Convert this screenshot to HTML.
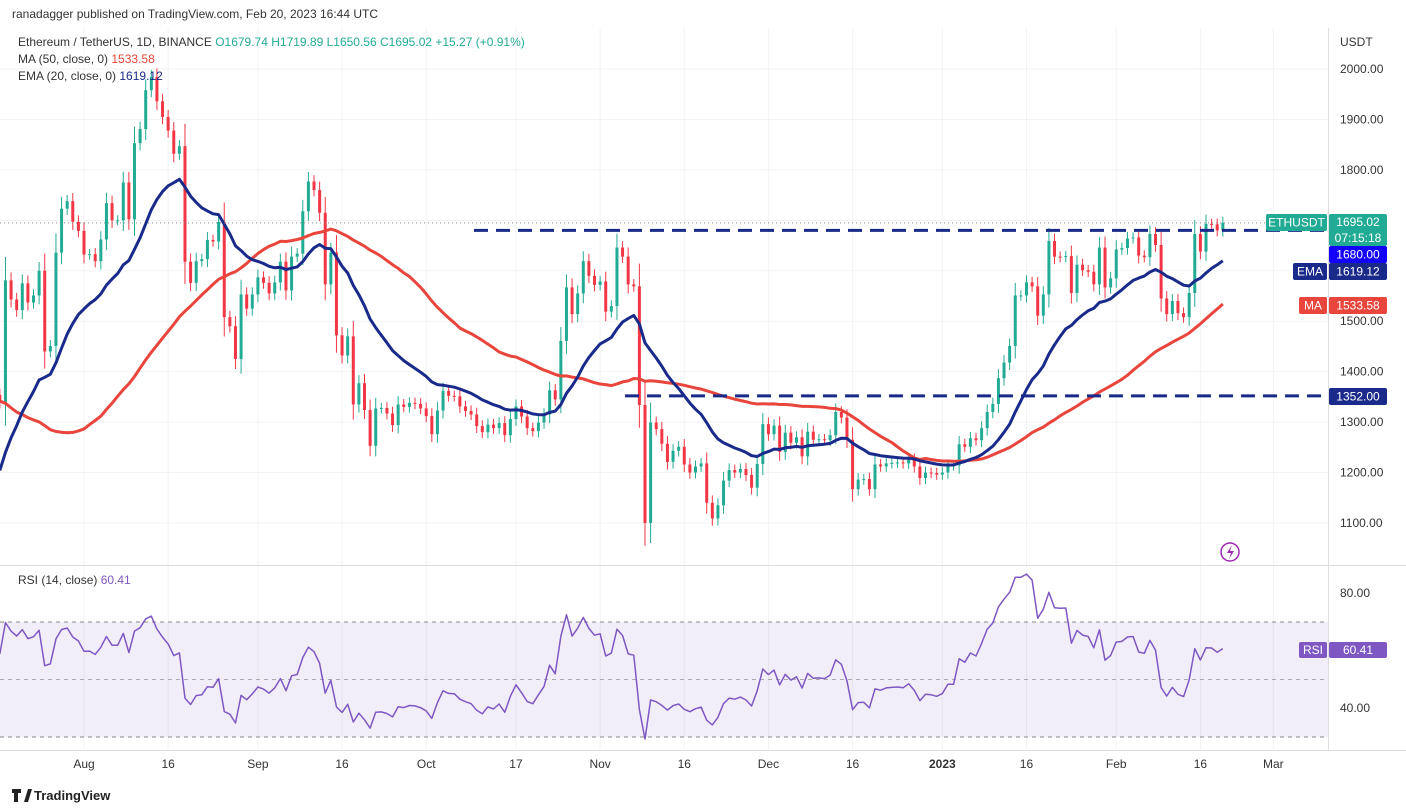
<!DOCTYPE html>
<html><head><meta charset="utf-8">
<style>
body{margin:0;background:#fff;font-family:"Liberation Sans",sans-serif;}
#wrap{position:relative;width:1406px;height:812px;overflow:hidden;background:#fff}
svg text{font-family:"Liberation Sans",sans-serif}
</style></head>
<body>
<div id="wrap">
<svg id="chart" width="1406" height="812">
  <rect x="0" y="0" width="1406" height="812" fill="#fff"/>
  <g id="grid"></g>
  <rect x="0" y="622" width="1328" height="115" fill="rgba(126,87,194,0.1)"/>
  <line x1="0" y1="622" x2="1328" y2="622" stroke="#888" stroke-dasharray="4,4"/>
  <line x1="0" y1="679.5" x2="1328" y2="679.5" stroke="#aaa" stroke-dasharray="4,4"/>
  <line x1="0" y1="737" x2="1328" y2="737" stroke="#888" stroke-dasharray="4,4"/>
  <g id="candles"></g>
  <g id="lines"></g>
  <g id="overlay"></g>
  <line x1="0" y1="565.5" x2="1406" y2="565.5" stroke="#ddd"/>
  <line x1="1328.5" y1="28" x2="1328.5" y2="750" stroke="#ddd"/>
  <line x1="0" y1="750.5" x2="1406" y2="750.5" stroke="#ddd"/>
  <g id="axes"></g>
  <text x="12" y="18" font-size="12" fill="#333">ranadagger published on TradingView.com, Feb 20, 2023 16:44 UTC</text>
  <text x="18" y="46" font-size="12" fill="#333">Ethereum / TetherUS, 1D, BINANCE <tspan fill="#22ab94"> O1679.74  H1719.89  L1650.56  C1695.02  +15.27 (+0.91%)</tspan></text>
  <text x="18" y="63" font-size="12" fill="#333">MA (50, close, 0) <tspan fill="#e8453c">1533.58</tspan></text>
  <text x="18" y="80" font-size="12" fill="#333">EMA (20, close, 0) <tspan fill="#1a2a8a">1619.12</tspan></text>
  <text x="18" y="584" font-size="12" fill="#333">RSI (14, close) <tspan fill="#7e57c2">60.41</tspan></text>
  <text x="1340" y="46" font-size="12" fill="#333">USDT</text>
  <g>
    <path d="M12 789h9v4h-3v9h-4v-9h-2z M24 802l4-13h4l-4 13z" fill="#222"/>
    <text x="34" y="800" font-size="13" font-weight="bold" fill="#222">TradingView</text>
  </g>
  <g>
    <circle cx="1230" cy="552" r="9" fill="none" stroke="#9c27b0" stroke-width="1.5"/>
    <path d="M1232 545l-5 8h4l-2 6 5-8h-4z" fill="#9c27b0"/>
  </g>
</svg>
</div>
<script>
const pre=[1790,1810,1995,1942,1823,1834,1775,1805,1806,1859,1814,1793,1790,1663,1530,1437,1206,1208,1237,1068,1084,995,1127,1128,1125,1052,1144,1226,1243,1199,1193,1144,1098,1068,1060,1066,1074,1150,1134,1186,1237,1213,1217,1167,1097,1038,1112,1192,1233,1354];
const closes=[1339,1581,1543,1522,1575,1537,1551,1600,1440,1451,1636,1723,1738,1697,1679,
1632,1633,1619,1662,1734,1700,1700,1775,1702,1853,1881,1958,1984,1936,1905,1878,1832,1847,1618,1576,1619,1623,1661,1658,1697,1508,1490,1425,1553,1525,1553,
1587,1576,1555,1577,1618,1561,1628,1634,1718,1777,1760,1715,1573,1636,1472,1432,1470,1335,1377,1324,1253,1327,1328,1317,1294,1335,1330,1338,1336,1327,
1312,1276,1323,1362,1352,1351,1331,1322,1315,1292,1280,1295,1288,1298,1274,1306,1331,1311,1288,1282,1299,1315,1363,1345,1461,1567,1514,1555,1619,1590,1572,
1579,1519,1530,1646,1628,1573,1569,1334,1100,1299,1286,1257,1221,1243,1251,1216,1200,1212,1218,1140,1109,1135,1184,1205,1200,1207,1195,1170,1217,1296,
1276,1293,1241,1279,1259,1270,1232,1281,1265,1266,1264,1274,1320,1309,1265,1167,1186,1187,1167,1216,1212,1218,1219,1220,1218,1226,1212,1189,1200,1199,1196,
1200,1214,1214,1256,1251,1268,1264,1288,1320,1336,1387,1418,1451,1551,1551,1577,1569,1511,1553,1659,1628,1627,1629,1556,1612,1601,1598,1573,1646,1567,1585,
1642,1645,1664,1666,1630,1627,1673,1651,1545,1514,1540,1516,1508,1556,1673,1638,1693,1692,1680,1695];
const priceTicks=[2000,1900,1800,1700,1600,1500,1400,1300,1200,1100];
const priceTickLabels=["2000.00","1900.00","1800.00","1700.00","1600.00","1500.00","1400.00","1300.00","1200.00","1100.00"];
const rsiTicks=[80,40];
const timeLabels=["Aug","16","Sep","16","Oct","17","Nov","16","Dec","16","2023","16","Feb","16","Mar"];
const timeDays=[15,30,46,61,76,92,107,122,137,152,168,183,199,214,227];
const levels=[1680,1352];

const NS="http://www.w3.org/2000/svg";
function mk(tag,attrs,parent){const e=document.createElementNS(NS,tag);for(const k in attrs)e.setAttribute(k,attrs[k]);parent.appendChild(e);return e;}
const xOf=i=>84+(i-15)*5.61;
const py=p=>69+(2000-p)*0.5044;
const ry=v=>593+(80-v)*2.875;

const all=pre.concat(closes);const off=pre.length;
const ma=[],ema=[];let e=all[0];const k=2/21;
for(let j=0;j<all.length;j++){e=j==0?all[0]:all[j]*k+e*(1-k);ema.push(e);
 if(j>=49){let s=0;for(let q=j-49;q<=j;q++)s+=all[q];ma.push(s/50);}else ma.push(null);}
const rsi=[];let ag=0,al=0;
for(let j=1;j<all.length;j++){const d=all[j]-all[j-1];const g=Math.max(d,0),l=Math.max(-d,0);
 if(j<=14){ag+=g/14;al+=l/14;rsi.push(null);}else{ag=(ag*13+g)/14;al=(al*13+l)/14;rsi.push(100-100/(1+ag/(al||1e-9)));}}
const rsiAt=i=>rsi[i+off-1];

const grid=document.getElementById('grid');
priceTicks.forEach(p=>{const l=mk('line',{x1:0,x2:1328,y1:py(p),y2:py(p),stroke:'#f3f3f3'},grid);

});
timeDays.forEach(d=>{const l=mk('line',{x1:xOf(d),x2:xOf(d),y1:28,y2:750,stroke:'#f3f3f3'},grid);

});

const cg=document.getElementById('candles');
for(let i=0;i<closes.length;i++){
 const o=i==0?pre[pre.length-1]:closes[i-1],c=closes[i];
 const up=c>=o,col=up?'#22ab94':'#f23645',x=xOf(i);
 const hi=Math.max(o,c)+Math.abs(c-o)*0.15+10,lo=Math.min(o,c)-Math.abs(c-o)*0.15-10;
 const g=mk('g',{},cg);
 
 
 mk('line',{x1:x,x2:x,y1:py(hi),y2:py(lo),stroke:col,'stroke-width':1},g);
 const y1=py(Math.max(o,c)),y2=py(Math.min(o,c));
 mk('rect',{x:x-1.5,y:y1,width:3,height:Math.max(1,y2-y1),fill:col},g);
}
const lg=document.getElementById('lines');
function poly(arr,fy,col,w,name){let pts=[];for(let i=0;i<closes.length;i++){const v=arr(i);if(v!=null)pts.push(xOf(i).toFixed(1)+','+fy(v).toFixed(1));}
 const p=mk('polyline',{points:pts.join(' '),fill:'none',stroke:col,'stroke-width':w,'stroke-linejoin':'round'},lg);
 
 }
poly(i=>ma[i+off],py,'#e8453c',3,'ma50-line');
poly(i=>ema[i+off],py,'#1a2a8a',3,'ema20-line');
poly(rsiAt,ry,'#7e57c2',1.5,'rsi-line');

const ov=document.getElementById('overlay');
const cur=closes[closes.length-1];
const dl=mk('line',{x1:0,x2:1328,y1:py(cur),y2:py(cur),stroke:'#888','stroke-dasharray':'1,3'},ov);


const lvStart=[474,625];
levels.forEach((lv,j)=>{const l=mk('line',{x1:lvStart[j],x2:1328,y1:py(lv),y2:py(lv),stroke:'#1a2a8a','stroke-width':3,'stroke-dasharray':'14,8'},ov);

});

const ax=document.getElementById('axes');
priceTicks.forEach((p,j)=>{const t=mk('text',{x:1340,y:py(p)+4,'font-size':12,fill:'#333'},ax);t.textContent=priceTickLabels[j];

});
rsiTicks.forEach(v=>{const t=mk('text',{x:1340,y:ry(v)+4,'font-size':12,fill:'#333'},ax);t.textContent=v.toFixed(2);

});
timeLabels.forEach((s,j)=>{const t=mk('text',{x:xOf(timeDays[j]),y:768,'font-size':12,fill:'#333','text-anchor':'middle','font-weight':s=='2023'?'bold':'normal'},ax);t.textContent=s;

});

function tag(x,y,w,h,bg,txt,name,fg){const g=mk('g',{},ax);
 
 
 mk('rect',{x:x,y:y,width:w,height:h,fill:bg,rx:2},g);
 const t=mk('text',{x:x+w/2,y:y+h/2+4,'font-size':12,fill:fg||'#fff','text-anchor':'middle'},g);t.textContent=txt;return g;}
tag(1266,214,61,17,'#22ab94','ETHUSDT','symbol-tag');
const g1=tag(1329,214,58,32,'#22ab94','1695.02','last-price-tag');
g1.querySelector('text').setAttribute('y',226);
const t2=mk('text',{x:1358,y:242,'font-size':12,fill:'#fff','text-anchor':'middle'},g1);t2.textContent='07:15:18';
tag(1329,246,58,17,'#1400ff','1680.00','level-1680-tag');
tag(1293,263,34,17,'#1a2a8a','EMA','ema-tag-label');
tag(1329,263,58,17,'#1a2a8a','1619.12','ema-value-tag');
tag(1299,297,28,17,'#e8453c','MA','ma-tag-label');
tag(1329,297,58,17,'#e8453c','1533.58','ma-value-tag');
tag(1329,388,58,17,'#1a2a8a','1352.00','level-1352-tag');
tag(1299,642,28,16,'#7e57c2','RSI','rsi-tag-label');
tag(1329,642,58,16,'#7e57c2','60.41','rsi-value-tag');
</script>
</body></html>
